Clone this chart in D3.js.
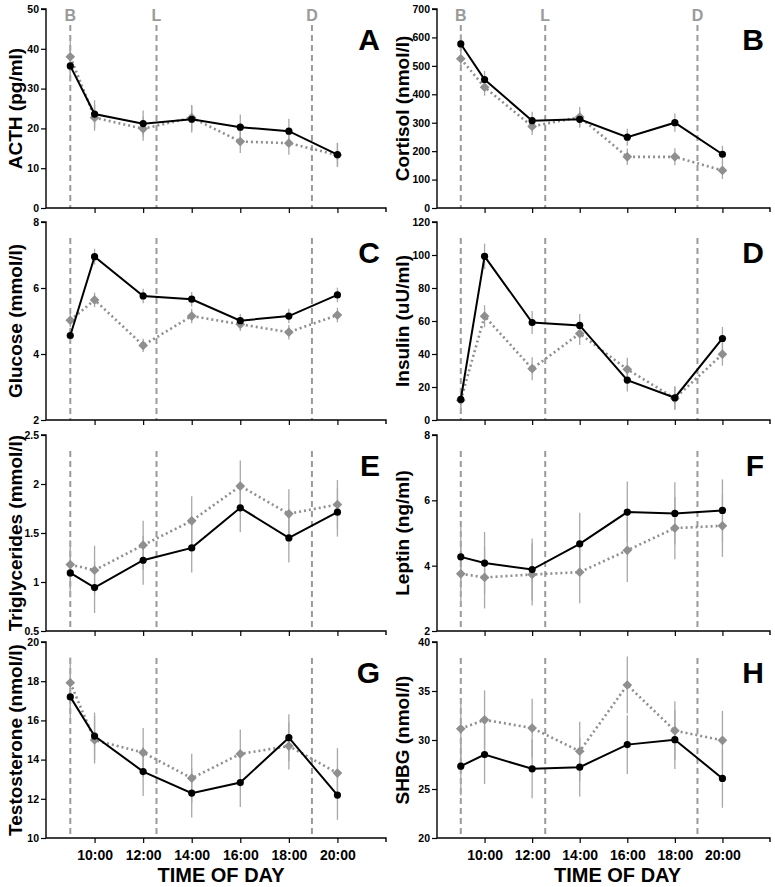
<!DOCTYPE html>
<html><head><meta charset="utf-8">
<script src="https://cdn.jsdelivr.net/npm/d3@7"></script>
<style>
body{margin:0;background:#fff}
svg{display:block}
text{font-family:Arial,"Liberation Sans",Helvetica,sans-serif;font-weight:bold}
</style>
</head><body><svg id="c" width="775" height="887"></svg>
<script>
// ---- data ----
const times = [9, 10, 12, 14, 16, 18, 20];
const xTickHours = [10, 12, 14, 16, 18, 20];
const xTickLabels = ["10:00", "12:00", "14:00", "16:00", "18:00", "20:00"];
const mealLabels = ["B", "L", "D"];
const mealHours = [9, 12.55, 18.95];

const panelLetters = ["A", "B", "C", "D", "E", "F", "G", "H"];
const yTitles = ["ACTH (pg/ml)", "Cortisol (nmol/l)", "Glucose (mmol/l)", "Insulin (uU/ml)",
  "Triglycerides (mmol/l)", "Leptin (ng/ml)", "Testosterone (nmol/l)", "SHBG (nmol/l)"];
const yDomains = [[0, 50], [0, 700], [2, 8], [0, 120], [0.5, 2.5], [2, 8], [10, 20], [20, 40]];
const yTickValues = [
  [0, 10, 20, 30, 40, 50],
  [0, 100, 200, 300, 400, 500, 600, 700],
  [2, 4, 6, 8],
  [0, 20, 40, 60, 80, 100, 120],
  [0.5, 1, 1.5, 2, 2.5],
  [2, 4, 6, 8],
  [10, 12, 14, 16, 18, 20],
  [20, 25, 30, 35, 40]
];

// solid black series and dotted grey series, with SEM
const acthSolid = [35.7, 23.6, 21.2, 22.3, 20.3, 19.3, 13.4];
const acthSolidErr = [4.0, 3.5, 3.3, 3.3, 3.2, 3.1, 3.0];
const acthDotted = [38.0, 22.7, 19.9, 22.7, 16.7, 16.3, 13.3];
const acthDottedErr = [4.5, 3.3, 3.0, 3.2, 2.9, 2.9, 3.0];

const cortisolSolid = [577, 452, 307, 312, 249, 300, 189];
const cortisolSolidErr = [35, 30, 32, 30, 30, 32, 30];
const cortisolDotted = [525, 425, 287, 320, 180, 180, 132];
const cortisolDottedErr = [35, 30, 30, 35, 29, 30, 30];

const glucoseSolid = [4.56, 6.95, 5.76, 5.66, 5.01, 5.15, 5.79];
const glucoseSolidErr = [0.2, 0.24, 0.22, 0.22, 0.2, 0.22, 0.22];
const glucoseDotted = [5.02, 5.64, 4.26, 5.15, 4.90, 4.66, 5.18];
const glucoseDottedErr = [0.2, 0.22, 0.2, 0.22, 0.2, 0.22, 0.22];

const insulinSolid = [12.5, 99.2, 59.1, 57.3, 24.2, 13.5, 49.4];
const insulinSolidErr = [7, 7.7, 7, 7, 7, 7, 7];
const insulinDotted = [12.0, 62.9, 31.1, 52.4, 30.7, 13.1, 39.9];
const insulinDottedErr = [7, 6.7, 7, 7, 7, 7, 7];

const tgSolid = [1.093, 0.943, 1.222, 1.348, 1.757, 1.450, 1.713];
const tgSolidErr = [0.25, 0.26, 0.25, 0.25, 0.25, 0.25, 0.25];
const tgDotted = [1.178, 1.120, 1.376, 1.624, 1.979, 1.696, 1.791];
const tgDottedErr = [0.25, 0.25, 0.25, 0.25, 0.26, 0.25, 0.25];

const leptinSolid = [4.27, 4.08, 3.88, 4.67, 5.64, 5.60, 5.69];
const leptinSolidErr = [0.95, 0.95, 0.95, 0.95, 0.94, 0.95, 0.95];
const leptinDotted = [3.75, 3.64, 3.73, 3.80, 4.47, 5.15, 5.22];
const leptinDottedErr = [0.95, 0.95, 0.95, 0.95, 0.97, 0.95, 0.95];

const testoSolid = [17.20, 15.20, 13.39, 12.29, 12.83, 15.12, 12.19];
const testoSolidErr = [1.2, 1.2, 1.25, 1.25, 1.25, 1.2, 1.26];
const testoDotted = [17.92, 15.0, 14.36, 13.05, 14.29, 14.69, 13.31];
const testoDottedErr = [1.3, 1.2, 1.25, 1.25, 1.25, 1.2, 1.27];

const shbgSolid = [27.33, 28.51, 27.06, 27.23, 29.53, 30.03, 26.08];
const shbgSolidErr = [3, 3, 3, 3, 3, 3, 3];
const shbgDotted = [31.15, 32.06, 31.22, 28.85, 35.61, 30.95, 29.97];
const shbgDottedErr = [3, 3, 3, 3, 2.9, 3, 3];

const solidSeries = [acthSolid, cortisolSolid, glucoseSolid, insulinSolid, tgSolid, leptinSolid, testoSolid, shbgSolid];
const solidErrors = [acthSolidErr, cortisolSolidErr, glucoseSolidErr, insulinSolidErr, tgSolidErr, leptinSolidErr, testoSolidErr, shbgSolidErr];
const dottedSeries = [acthDotted, cortisolDotted, glucoseDotted, insulinDotted, tgDotted, leptinDotted, testoDotted, shbgDotted];
const dottedErrors = [acthDottedErr, cortisolDottedErr, glucoseDottedErr, insulinDottedErr, tgDottedErr, leptinDottedErr, testoDottedErr, shbgDottedErr];

// ---- layout ----
const cols = [{x0: 46, x1: 386, title: 22}, {x0: 437, x1: 770, title: 409}];
const rows = [{y0: 9, y1: 208}, {y0: 222, y1: 420}, {y0: 435, y1: 631}, {y0: 642, y1: 838}];
const GREY = "#9a9a9a";
const DOT_GREY = "#8f8f8f";

const svg = d3.select("#c");

panelLetters.forEach((letter, i) => {
  const col = cols[i % 2], row = rows[Math.floor(i / 2)];
  const isBottom = Math.floor(i / 2) === 3, isTop = Math.floor(i / 2) === 0;
  const x = d3.scaleLinear().domain([8, 22]).range([col.x0, col.x1]);
  const y = d3.scaleLinear().domain(yDomains[i]).range([row.y1, row.y0]);
  const g = svg.append("g");

  // meal lines
  mealHours.forEach((h, k) => {
    g.append("line")
      .attr("x1", x(h)).attr("x2", x(h))
      .attr("y1", row.y0 + 16).attr("y2", row.y1)
      .attr("stroke", GREY).attr("stroke-width", 2)
      .attr("stroke-dasharray", "6,4");
    if (isTop) {
      g.append("text").attr("x", x(h)).attr("y", row.y0 + 12)
        .attr("text-anchor", "middle").attr("font-size", 16)
        .attr("fill", GREY).text(mealLabels[k]);
    }
  });

  // axes
  const yAxis = d3.axisLeft(y).tickValues(yTickValues[i]).tickSize(5).tickPadding(2)
    .tickFormat(d3.format("~g"));
  const ya = g.append("g").attr("transform", `translate(${col.x0},0)`).call(yAxis);
  ya.select(".domain").attr("stroke", "#000").attr("stroke-width", 1.4).attr("d", `M-5,${row.y0}H0V${row.y1}`);
  ya.selectAll(".tick line").attr("stroke-width", 1.2);
  ya.selectAll("text").attr("font-size", 10.5).attr("font-weight", "bold")
    .attr("font-family", 'Arial,"Liberation Sans",sans-serif').attr("fill", "#000");

  const xAxis = d3.axisBottom(x).tickValues(xTickHours).tickSize(5).tickPadding(7)
    .tickFormat((d, k) => isBottom ? xTickLabels[k] : "");
  const xa = g.append("g").attr("transform", `translate(0,${row.y1})`).call(xAxis);
  xa.select(".domain").attr("stroke", "#000").attr("stroke-width", 1.4).attr("d", `M${col.x0},0H${col.x1}V4`);
  xa.selectAll(".tick line").attr("stroke-width", 1.2);
  xa.selectAll("text").attr("font-size", 14).attr("font-weight", "bold")
    .attr("font-family", 'Arial,"Liberation Sans",sans-serif').attr("fill", "#000");

  // error bars
  const drawErr = (vals, errs) => {
    g.append("g").selectAll("line").data(times).join("line")
      .attr("x1", d => x(d)).attr("x2", d => x(d))
      .attr("y1", (d, k) => y(vals[k] - errs[k]))
      .attr("y2", (d, k) => y(vals[k] + errs[k]))
      .attr("stroke", "#a8a8a8").attr("stroke-width", 1.3);
  };
  drawErr(solidSeries[i], solidErrors[i]);
  drawErr(dottedSeries[i], dottedErrors[i]);

  const line = d3.line().x((d, k) => x(times[k])).y(d => y(d));
  g.append("path").datum(dottedSeries[i]).attr("d", line)
    .attr("fill", "none").attr("stroke", DOT_GREY).attr("stroke-width", 2.6)
    .attr("stroke-dasharray", "2,3");
  g.append("g").selectAll("path").data(dottedSeries[i]).join("path")
    .attr("d", d3.symbol(d3.symbolDiamond2, 60)())
    .attr("transform", (d, k) => `translate(${x(times[k])},${y(d)})`)
    .attr("fill", DOT_GREY);

  g.append("path").datum(solidSeries[i]).attr("d", line)
    .attr("fill", "none").attr("stroke", "#000").attr("stroke-width", 2);
  g.append("g").selectAll("circle").data(solidSeries[i]).join("circle")
    .attr("cx", (d, k) => x(times[k])).attr("cy", d => y(d)).attr("r", 3.6)
    .attr("fill", "#000");

  // y title
  g.append("text")
    .attr("transform", `translate(${col.title},${(row.y0 + row.y1) / 2}) rotate(-90)`)
    .attr("text-anchor", "middle").attr("font-size", 19).text(yTitles[i]);

  // panel letter
  g.append("text").attr("x", col.x1 - 6).attr("y", row.y0 + 41)
    .attr("text-anchor", "end").attr("font-size", 30).text(letter);

  if (isBottom) {
    g.append("text").attr("x", (col.x0 + col.x1) / 2 + (i % 2 ? 14 : 5)).attr("y", 882)
      .attr("text-anchor", "middle").attr("font-size", 20).text("TIME OF DAY");
  }
});
</script>
</body></html>
